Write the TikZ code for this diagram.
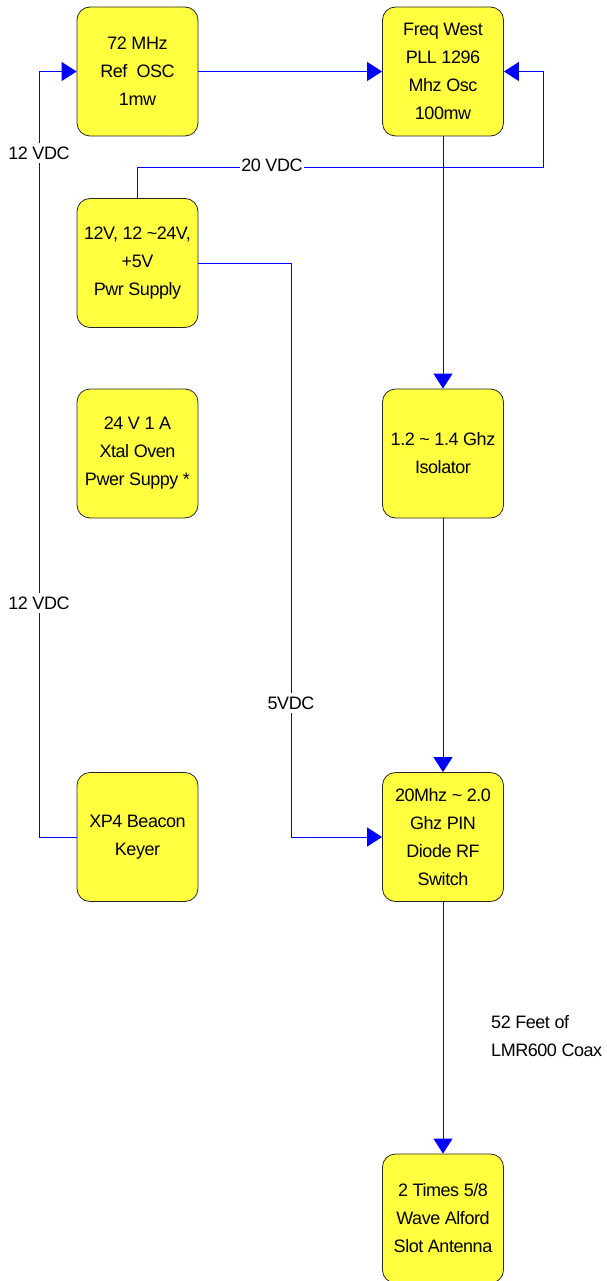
\documentclass[tikz,border=0pt]{standalone}
\usepackage{fontspec}
\setmainfont[LetterSpace=-2.5]{Liberation Sans}
\usepackage{xcolor}
\usepackage{tikz}
\usetikzlibrary{arrows.meta}
\definecolor{boxyellow}{RGB}{255,255,64}
\definecolor{wireblue}{RGB}{0,0,255}

\begin{document}
\begin{tikzpicture}[x=1pt, y=-1pt,
    block/.style={draw=black!85, line width=0.8pt, fill=boxyellow, rounded corners=13pt,
        minimum width=121pt, minimum height=129pt, inner sep=0pt, align=center,
        font=\fontsize{18}{28}\selectfont},
    wire/.style={draw=wireblue, line width=1pt},
    feed/.style={wire, -{Triangle[length=15pt,width=19pt]}},
    vlabel/.style={fill=white, inner sep=4pt, font=\fontsize{18}{28}\selectfont}]
    \useasboundingbox (0,0) rectangle (607,1281);

    % Blocks
    \node[block] (refosc) at (137.5,71.5) {72 MHz\\Ref\ \ OSC\\1mw};
    \node[block] (pll) at (443,71.5) {Freq West\\PLL 1296\\Mhz Osc\\100mw};
    \node[block] (psu) at (137.5,263) {12V, 12 \textasciitilde24V,\\+5V\\Pwr Supply};
    \node[block] (oven) at (137.5,453.5) {24 V 1 A\\Xtal Oven\\Pwer Suppy *};
    \node[block] (iso) at (443,453.5) {1.2 \textasciitilde\ 1.4 Ghz\\Isolator};
    \node[block] (keyer) at (137.5,837) {XP4 Beacon\\Keyer};
    \node[block] (rfsw) at (443,837) {20Mhz \textasciitilde\ 2.0\\Ghz PIN\\Diode RF\\Switch};
    \node[block] (ant) at (443,1218.5) {2 Times 5/8\\Wave Alford\\Slot Antenna};

    % Bends
    \coordinate (k12) at (39,837);
    \coordinate (r20) at (543,167.5);
    \coordinate (v5) at (291,263);

    % Connections
    \draw[feed] (keyer.west) -- (k12) |- (refosc.west);
    \draw[feed] (refosc.east) -- (pll.west);
    \draw[feed] (psu.north) |- (r20) |- (pll.east);
    \draw[feed] (pll.south) -- (iso.north);
    \draw[feed] (iso.south) -- (rfsw.north);
    \draw[feed] (psu.east) -- (v5) |- (rfsw.west);
    \draw[feed] (rfsw.south) -- (ant.north);

    % Labels
    \node[vlabel] (l12a) at (39,153) {12 VDC};
    \node[vlabel] (l12b) at (39,603) {12 VDC};
    \node[vlabel, inner sep=1pt] (l20) at (272,165) {20 VDC};
    \node[vlabel] (l5) at (291,703) {5VDC};
    \node[align=left, anchor=west, inner sep=0pt, font=\fontsize{18}{28}\selectfont] (coax) at (491,1036) {52 Feet of\\LMR600 Coax};
\end{tikzpicture}
\end{document}
